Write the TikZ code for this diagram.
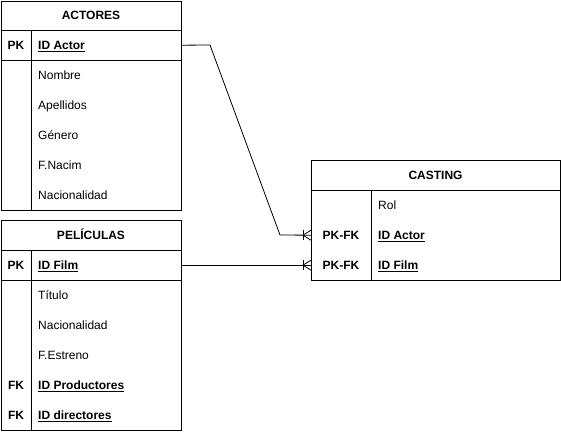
\documentclass[tikz,border=0pt]{standalone}
\usepackage{fontspec}
\setmainfont{Liberation Sans}
\usetikzlibrary{calc}
\newcommand{\ulx}[1]{\setbox0\hbox{#1}\rlap{\rule[-2.2pt]{\wd0}{0.8pt}}\box0}
\tikzset{
  tbl/.style={draw, line width=0.9pt, inner sep=0, anchor=north west},
  rowbox/.style={inner sep=0, anchor=north west},
  sep/.style={line width=0.9pt},
  txt/.style={inner sep=0, anchor=west, text height=9.6pt, text depth=0pt, font=\fontsize{12}{14}\selectfont},
  keytxt/.style={txt, anchor=center, font=\fontsize{12}{14}\selectfont\bfseries},
  ttl/.style={txt, anchor=center, font=\fontsize{12}{14}\selectfont\bfseries},
  conn/.style={line width=0.8pt},
}
\begin{document}
\begin{tikzpicture}[x=1pt,y=-1pt]
\useasboundingbox (0,0) rectangle (561,431);
% ACTORES
\node[tbl, minimum width=180pt, minimum height=209pt] (actores) at (1,1) {};
\node[rowbox, minimum width=180pt, minimum height=30pt] (aPK) at (1,30) {};
\draw[sep] (1,30) -- (181,30);
\draw[sep] (1,60) -- (181,60);
\draw[sep] (31,30) -- (31,210);
\node[ttl] (aT) at (91,15) {ACTORES};
\node[keytxt] (aK) at (16,45) {PK};
\node[txt, font=\fontsize{12}{14}\selectfont\bfseries] (a1) at (38,45) {\ulx{ID Actor}};
\node[txt] (a2) at (38,75) {Nombre};
\node[txt] (a3) at (38,105) {Apellidos};
\node[txt] (a4) at (38,135) {Género};
\node[txt] (a5) at (38,165) {F.Nacim};
\node[txt] (a6) at (38,195) {Nacionalidad};
% PELICULAS
\node[tbl, minimum width=180pt, minimum height=210pt] (peliculas) at (1,220) {};
\node[rowbox, minimum width=180pt, minimum height=30pt] (pPK) at (1,250) {};
\draw[sep] (1,250) -- (181,250);
\draw[sep] (1,280) -- (181,280);
\draw[sep] (31,250) -- (31,430);
\node[ttl] (pT) at (91,235) {PELÍCULAS};
\node[keytxt] (pK) at (16,265) {PK};
\node[txt, font=\fontsize{12}{14}\selectfont\bfseries] (p1) at (38,265) {\ulx{ID Film}};
\node[txt] (p2) at (38,295) {Título};
\node[txt] (p3) at (38,325) {Nacionalidad};
\node[txt] (p4) at (38,355) {F.Estreno};
\node[keytxt] (pK2) at (16,385) {FK};
\node[txt, font=\fontsize{12}{14}\selectfont\bfseries] (p5) at (38,385) {\ulx{ID Productores}};
\node[keytxt] (pK3) at (16,415) {FK};
\node[txt, font=\fontsize{12}{14}\selectfont\bfseries] (p6) at (38,415) {\ulx{ID directores}};
% CASTING
\node[tbl, minimum width=249pt, minimum height=120pt] (casting) at (311,160) {};
\node[rowbox, minimum width=249pt, minimum height=30pt] (cA) at (311,220) {};
\node[rowbox, minimum width=249pt, minimum height=30pt] (cF) at (311,250) {};
\draw[sep] (311,190) -- (560,190);
\draw[sep] (371,190) -- (371,280);
\node[ttl] (cT) at (435.5,175) {CASTING};
\node[txt] (c1) at (378,205) {Rol};
\node[keytxt] (cK1) at (341,235) {PK-FK};
\node[txt, font=\fontsize{12}{14}\selectfont\bfseries] (c2) at (378,235) {\ulx{ID Actor}};
\node[keytxt] (cK2) at (341,265) {PK-FK};
\node[txt, font=\fontsize{12}{14}\selectfont\bfseries] (c3) at (378,265) {\ulx{ID Film}};
% connectors
\coordinate (b1) at (210,45);
\coordinate (b2) at (280,235);
\draw[conn] (aPK.east) -- (b1) -- (b2) -- (cA.west);
\draw[conn] (pPK.east) -- (cF.west);
% crow's feet (one or many)
\foreach \n in {cA,cF}{
  \draw[conn] ($(\n.west)+(-8,-5)$) -- ($(\n.west)+(-8,5)$);
  \draw[conn] ($(\n.west)+(0,-5)$) -- ($(\n.west)+(-8,0)$) -- ($(\n.west)+(0,5)$);
}
\end{tikzpicture}
\end{document}
